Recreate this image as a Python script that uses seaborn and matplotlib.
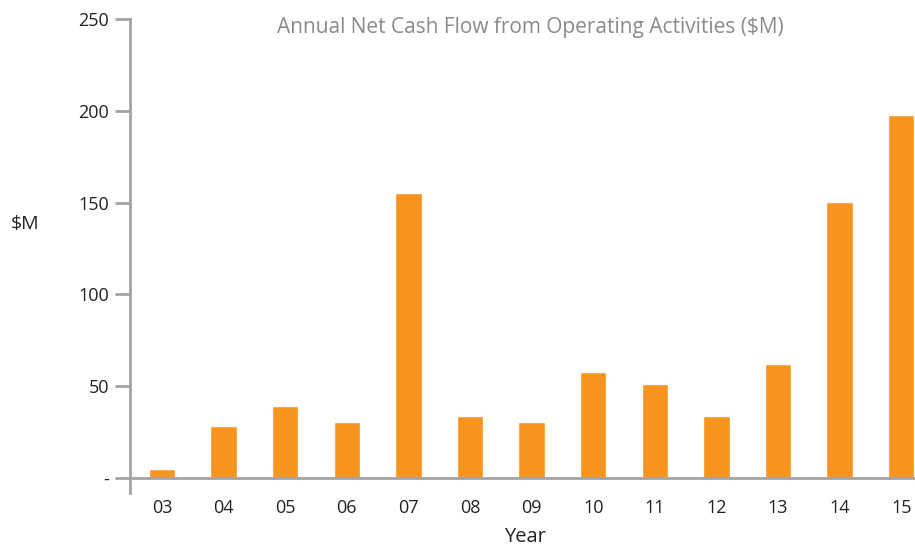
import pandas as pd
import matplotlib.pyplot as plt
import seaborn as sns

# data
years = ['03', '04', '05', '06', '07', '08', '09', '10', '11', '12', '13', '14', '15']
cash_flow = [4.8, 28.2, 39, 30.4, 155, 33.5, 30.4, 57.6, 51.1, 33.5, 62, 150.5, 197.5]

df = pd.DataFrame({'Year': years, 'cash': cash_flow})

sns.set_theme(style='white')
plt.rcParams['font.family'] = ['Open Sans', 'DejaVu Sans']

W, H = 915, 546
fig = plt.figure(figsize=(W / 100, H / 100), dpi=100)

# axes placed in pixels: y axis at x=130, 0 at y=478, 250 at y=19
px_per_unit = (478 - 19) / 250
ymin = -15 / px_per_unit
left_px, bottom_px, top_px = 130, 493, 19
spacing = 61.6
xmin, xmax = -0.52, 12.6
width_px = (xmax - xmin) * spacing
ax = fig.add_axes([left_px / W, (H - bottom_px) / H, width_px / W, (bottom_px - top_px) / H])

orange = '#F7941D'
grey = '#A3A3A3'

sns.barplot(data=df, x='Year', y='cash', color=orange, width=0.43,
            saturation=1, ax=ax)

ax.set_xlim(xmin, xmax)
ax.set_ylim(ymin, 250)
ax.axhline(0, color=grey, lw=2, zorder=3)

for s in ['top', 'right', 'bottom']:
    ax.spines[s].set_visible(False)
ax.spines['left'].set_color(grey)
ax.spines['left'].set_linewidth(2)

ax.set_yticks([0, 50, 100, 150, 200, 250])
ax.set_yticklabels(['-', '50', '100', '150', '200', '250'])
ax.tick_params(axis='y', left=True, length=11, width=2, color=grey,
               labelsize=13, labelcolor='#222222', pad=4)
ax.tick_params(axis='x', bottom=False, labelsize=13, labelcolor='#222222', pad=-2)

ax.set_xlabel('')
ax.set_ylabel('')
fig.text(25 / W, 1 - 224 / H, '$M', fontsize=14, color='#222222',
         ha='center', va='center')
fig.text(525 / W, 1 - 537 / H, 'Year', fontsize=14.5, color='#222222',
         ha='center', va='center')
fig.text(530 / W, 1 - 27 / H, 'Annual Net Cash Flow from Operating Activities ($M)',
         fontsize=15, color='#8a8a8a', ha='center', va='center')

fig.savefig('out.png', dpi=100)
